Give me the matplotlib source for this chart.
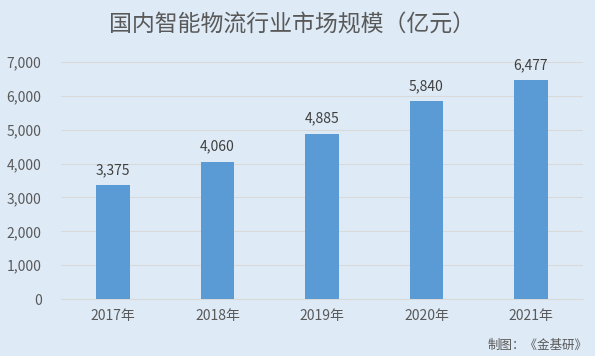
import matplotlib
matplotlib.use("Agg")
import matplotlib.pyplot as plt
from matplotlib.ticker import FuncFormatter

plt.rcParams['font.family'] = ['Noto Sans CJK SC', 'DejaVu Sans']

years = ['2017年', '2018年', '2019年', '2020年', '2021年']
values = [3375, 4060, 4885, 5840, 6477]
title = '国内智能物流行业市场规模（亿元）'
source = '制图：《金基研》'

bg = '#DEEAF6'
txt = '#595959'

fig = plt.figure(figsize=(5.95, 3.56), dpi=100, facecolor=bg)
ax = fig.add_axes([0.1025, 0.160, 0.8775, 0.666], facecolor=bg)

x = range(len(years))
bars = ax.bar(x, values, width=0.32, color='#5B9BD5', zorder=3)
for xi, v in zip(x, values):
    ax.text(xi, v + 230, f'{v:,}', ha='center', va='bottom', fontsize=10, color='#404040')

ax.set_xlim(-0.5, len(years) - 0.5)
ax.set_ylim(0, 7000)
ax.set_yticks(range(0, 7001, 1000))
ax.yaxis.set_major_formatter(FuncFormatter(lambda v, p: f'{int(v):,}'))
ax.set_xticks(list(x))
ax.set_xticklabels(years)
ax.tick_params(axis='both', length=0, colors=txt, labelsize=10)
ax.tick_params(axis='x', pad=7)
ax.tick_params(axis='y', pad=14)

ax.grid(axis='y', color='#D9D9D9', linewidth=0.8, zorder=0)
for s in ['top', 'right', 'left']:
    ax.spines[s].set_visible(False)
ax.spines['bottom'].set_color('#D9D9D9')

fig.text(0.49, 0.93, title, ha='center', va='center', fontsize=16.5, color=txt)
fig.text(0.988, 0.03, source, ha='right', va='center', fontsize=9, color=txt)

fig.savefig('out.png', dpi=100, facecolor=bg)
